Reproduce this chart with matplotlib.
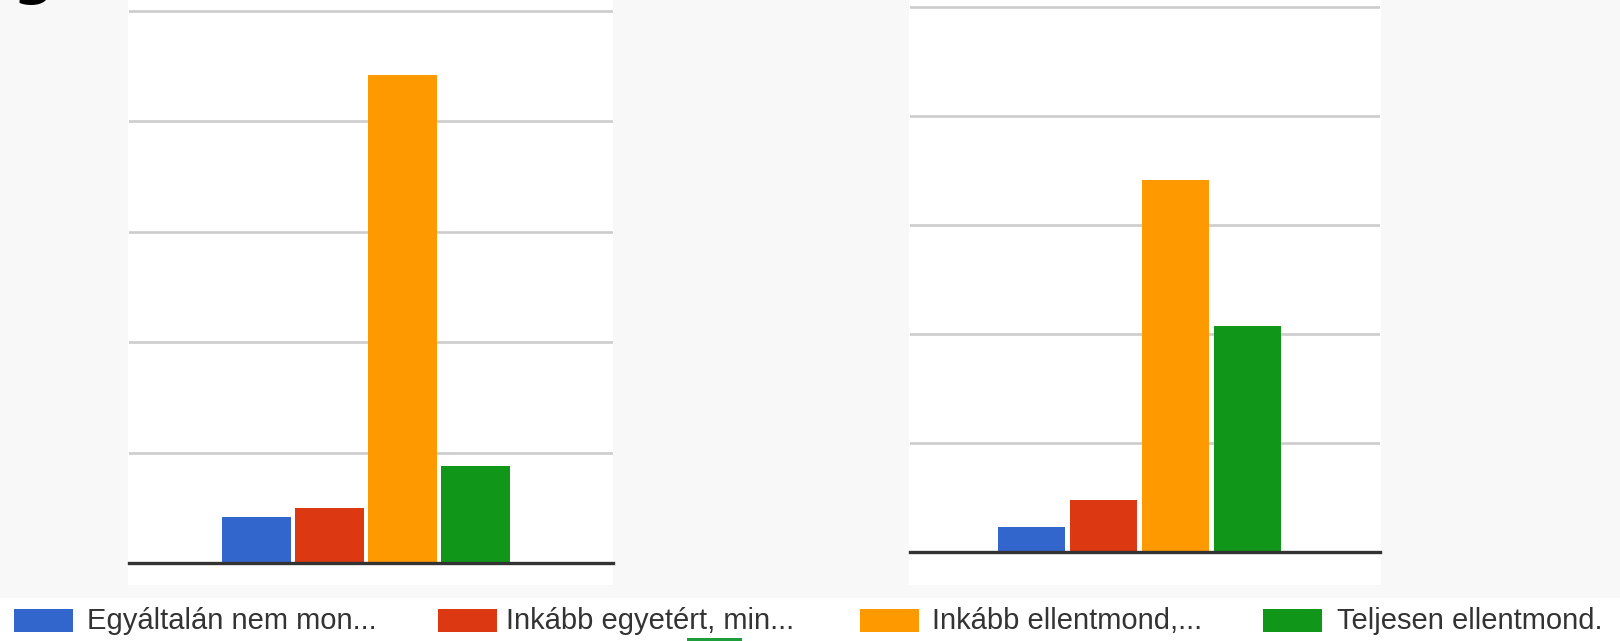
import matplotlib
matplotlib.use("Agg")
import matplotlib.pyplot as plt
from matplotlib.patches import Rectangle
import numpy as np

# adatok (a rácsvonalak lépésköze 10-nek véve)
labels = ["Egyáltalán nem mon...", "Inkább egyetért, min...",
          "Inkább ellentmond,...", "Teljesen ellentmond."]
colors = ["#3366cc", "#dc3912", "#ff9900", "#109618"]
left_values = [4.2, 5.0, 44.2, 8.8]
right_values = [2.3, 4.8, 34.1, 20.7]
grid_step = 10

W, H = 1620, 641
fig = plt.figure(figsize=(W / 100, H / 100), dpi=100, facecolor="#f8f8f8")

def fx(px):
    return px / W

def fy(py):
    # pixel from top -> figure fraction
    return 1 - py / H

# fehér panelek a diagramok mögött + fehér sáv a jelmagyarázatnak
for x0, x1 in [(128, 613), (909, 1381)]:
    fig.patches.append(Rectangle((fx(x0), fy(585)), fx(x1 - x0), 585 / H,
                                 transform=fig.transFigure, facecolor="white",
                                 edgecolor="none", zorder=-2))
fig.patches.append(Rectangle((0, 0), 1, fy(598), transform=fig.transFigure,
                             facecolor="white", edgecolor="none", zorder=-2))


def bar_panel(rect, values, xlim, ytop, width):
    ax = fig.add_axes(rect, zorder=1)
    ax.set_facecolor("white")
    x = np.arange(len(values))
    ax.bar(x, values, width=width, color=colors, zorder=3)
    ax.set_xlim(*xlim)
    ax.set_ylim(0, ytop)
    for g in np.arange(grid_step, ytop, grid_step):
        ax.axhline(g, color="#cccccc", lw=1.9, zorder=1)
    ax.axhline(0, color="#333333", lw=2.4, zorder=4, clip_on=False)
    ax.set_xticks([])
    ax.set_yticks([])
    for s in ax.spines.values():
        s.set_visible(False)
    return ax


# bal diagram
bar_panel([fx(129), fy(563), fx(613 - 129), 563 / H], left_values,
          (-1.747, 4.884), 563 / 110.4 * grid_step, 0.945)
# jobb diagram
bar_panel([fx(910), fy(552), fx(1380 - 910), 552 / H], right_values,
          (-1.688, 4.84), 552 / 109 * grid_step, 0.94)

# jelmagyarázat
patch_x = [14, 438, 860, 1263]
text_x = [87, 506, 932, 1337]
for px, tx, lab, c in zip(patch_x, text_x, labels, colors):
    fig.patches.append(Rectangle((fx(px), fy(632)), fx(59), 23 / H,
                                 transform=fig.transFigure, facecolor=c,
                                 edgecolor="none", zorder=2))
    fig.text(fx(tx), fy(621), lab, fontsize=21, color="#333333",
             va="center", ha="left", family="Liberation Sans")

# levágott címrészlet a bal felső sarokban
fig.text(fx(12), fy(-7), "g]", fontsize=42, fontweight="bold",
         color="black", va="baseline", ha="left")
# levágott zöld jel alul
fig.patches.append(Rectangle((fx(687), 0), fx(55), 3 / H,
                             transform=fig.transFigure, facecolor="#1e9e3a",
                             edgecolor="none", zorder=2))

fig.savefig("out.png", dpi=100, facecolor=fig.get_facecolor())
